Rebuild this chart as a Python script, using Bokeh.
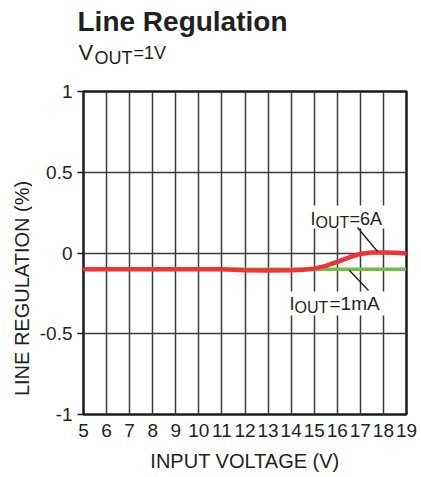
import math
from bokeh.plotting import figure
from bokeh.layouts import column, row
from bokeh.models import Label, Range1d, FixedTicker, CustomJSTickFormatter, BoxAnnotation
from bokeh.embed import file_html
from bokeh.resources import INLINE

# ---- data ----
vin_6a = [5, 6, 7, 8, 9, 10, 11, 11.5, 12, 13, 14, 14.5, 15, 15.5, 16, 16.5, 17, 17.5, 18, 18.5, 19]
reg_6a = [-0.1, -0.1, -0.1, -0.1, -0.1, -0.1, -0.1, -0.104, -0.107, -0.108, -0.107, -0.104,
          -0.097, -0.08, -0.055, -0.028, -0.006, 0.003, 0.003, 0.001, -0.003]
vin_1ma = [5, 6, 7, 8, 9, 10, 11, 12, 13, 14, 15, 16, 17, 18, 19]
reg_1ma = [-0.1, -0.1, -0.1, -0.1, -0.1, -0.1, -0.1, -0.1, -0.1, -0.1, -0.1, -0.1, -0.1, -0.1, -0.1]
x_ticks = [5, 6, 7, 8, 9, 10, 11, 12, 13, 14, 15, 16, 17, 18, 19]
y_ticks = [-1, -0.5, 0, 0.5, 1]

FONT = "Liberation Sans"
INK = "#231f20"

PAGE_W, PAGE_H = 421, 477
HEAD_H = 75          # header strip (title, subtitle)
STRIP_W = 32         # left strip (y-axis title)
FL, FR, FT, FB = 83, 406, 91, 414   # plot frame in page pixels
MW, MH = PAGE_W - STRIP_W, PAGE_H - HEAD_H
B_TOP, B_BOT = FT - HEAD_H, PAGE_H - FB


def blank(w, h, x0, y0, bt=0, bb=0):
    """A figure with no axes; its frame maps page pixels directly."""
    f = figure(width=w, height=h, output_backend="svg", toolbar_location=None, title=None,
               x_range=Range1d(x0, x0 + w), y_range=Range1d(y0 + h - bb, y0 + bt),
               x_axis_type=None, y_axis_type=None,
               min_border_left=0, min_border_right=0, min_border_top=bt, min_border_bottom=bb)
    f.outline_line_color = None
    f.grid.visible = False
    f.background_fill_color = "white"
    f.border_fill_color = "white"
    return f


def lab(fig, text, x, y, size, style="normal", align="left", angle=0, baseline="alphabetic"):
    fig.add_layout(Label(x=x, y=y, text=text, text_font=FONT, text_font_size=size,
                         text_font_style=style, text_color=INK, text_align=align,
                         text_baseline=baseline, angle=angle))


# ---- header: title and subtitle ----
head = blank(PAGE_W, HEAD_H, 0, 0)
lab(head, "Line Regulation", 77, 21, "28px", "bold")
lab(head, "V", 78, 52, "22px")
lab(head, "OUT", 94, 57, "18px")
lab(head, "=1V", 133, 52, "18px")

# ---- left strip: y-axis title (same vertical borders as the chart, so frames align) ----
strip = blank(STRIP_W, MH, 0, HEAD_H, bt=B_TOP, bb=B_BOT)
lab(strip, "LINE REGULATION (%)", 21, 288, "20px", align="center", angle=math.pi / 2,
    baseline="middle")

# ---- main chart ----
p = figure(width=MW, height=MH, output_backend="svg", toolbar_location=None, title=None,
           x_range=Range1d(5, 19), y_range=Range1d(-1, 1),
           min_border_left=FL - STRIP_W, min_border_right=PAGE_W - FR,
           min_border_top=B_TOP, min_border_bottom=B_BOT)
p.background_fill_color = "white"
p.border_fill_color = "white"
p.outline_line_color = "#1a1a1a"
p.outline_line_width = 2.5

p.xgrid.ticker = FixedTicker(ticks=x_ticks)
p.ygrid.ticker = FixedTicker(ticks=y_ticks)
for g in (p.xgrid, p.ygrid):
    g.grid_line_color = "#3a3a3a"
    g.grid_line_width = 1.5
    g.grid_line_alpha = 1.0

p.xaxis.ticker = FixedTicker(ticks=x_ticks)
p.yaxis.ticker = FixedTicker(ticks=y_ticks)
p.yaxis.formatter = CustomJSTickFormatter(code="return tick.toString();")
for ax in (p.xaxis, p.yaxis):
    ax.axis_line_color = None
    ax.minor_tick_line_color = None
    ax.major_label_text_font = FONT
    ax.major_label_text_font_size = "19px"
    ax.major_label_text_color = INK
p.xaxis.major_tick_line_color = None
p.xaxis.major_tick_in = 0
p.xaxis.major_tick_out = 0
p.xaxis.major_label_standoff = 9
p.xaxis.axis_label = "INPUT VOLTAGE (V)"
p.xaxis.axis_label_text_font = FONT
p.xaxis.axis_label_text_font_size = "20px"
p.xaxis.axis_label_text_font_style = "normal"
p.xaxis.axis_label_text_color = INK
p.xaxis.axis_label_standoff = 10
p.yaxis.major_tick_in = 0
p.yaxis.major_tick_out = 6
p.yaxis.major_tick_line_color = "#1a1a1a"
p.yaxis.major_tick_line_width = 1.5
p.yaxis.major_label_standoff = 5

p.line(vin_1ma, reg_1ma, line_color="#6cbf4a", line_width=3.5)
p.line(vin_6a, reg_6a, line_color="#ee3434", line_width=4.5, line_join="round", line_cap="round")


def dx(px):  # page pixel -> data x
    return 5 + (px - FL) * 14 / (FR - FL)


def dy(py):  # page pixel -> data y
    return 1 - (py - FT) * 2 / (FB - FT)


# white boxes behind the series annotations
p.add_layout(BoxAnnotation(left=dx(306), right=dx(393), top=dy(205), bottom=dy(228),
                           fill_color="white", fill_alpha=1, line_color=None, level="underlay"))
p.add_layout(BoxAnnotation(left=dx(287), right=dx(390), top=dy(291), bottom=dy(315),
                           fill_color="white", fill_alpha=1, line_color=None, level="underlay"))

# leader lines
p.segment(x0=[dx(357), dx(349)], y0=[dy(227), dy(270)], x1=[dx(377), dx(368)], y1=[dy(251), dy(290)],
          line_color="#1a1a1a", line_width=1.3)

# series annotations
lab(p, "I", dx(310), dy(218), "18px")
lab(p, "OUT", dx(315), dy(222), "16px")
lab(p, "=6A", dx(349), dy(218), "18px")
lab(p, "I", dx(289), dy(303), "18px")
lab(p, "OUT", dx(294), dy(307), "16px")
lab(p, "=1mA", dx(329), dy(303), "19px")

layout = column(head, row(strip, p))
open("out.html", "w").write(file_html(layout, INLINE))
